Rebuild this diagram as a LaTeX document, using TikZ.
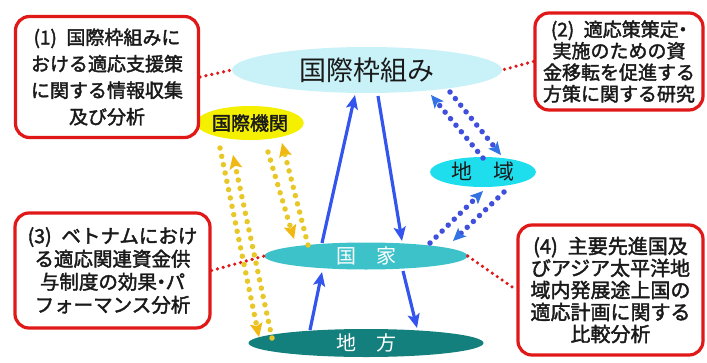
\documentclass[tikz,border=0pt]{standalone}
\usepackage{fontspec}
\usetikzlibrary{shapes.geometric,arrows.meta}
\newfontfamily\jp{Noto Sans CJK JP}
\newfontfamily\jpb[FakeBold=2]{Noto Sans CJK JP}
\newcommand{\hdot}{\kern-.28em・\kern-.28em}
\definecolor{boxred}{HTML}{E01818}
\definecolor{txt}{HTML}{1A1A1A}
\definecolor{topcol}{HTML}{C8F2F8}
\definecolor{yelcol}{HTML}{F4F000}
\definecolor{regcol}{HTML}{1EDEEE}
\definecolor{natcol}{HTML}{3EC2CA}
\definecolor{loccol}{HTML}{14807E}
\definecolor{arrblue}{HTML}{3355EE}
\definecolor{dotblue}{HTML}{4050DC}
\definecolor{dotyel}{HTML}{E8C828}
\definecolor{tipyel}{HTML}{F0B810}
\begin{document}
\begin{tikzpicture}[x=1pt,y=-1pt,
  box/.style={draw=boxred, line width=3.2pt, rounded corners=14pt, fill=white,
    align=center, inner sep=0pt, text=txt},
  ell/.style={ellipse, inner sep=0pt},
  reddot/.style={draw=boxred, line width=3.6pt, line cap=round, dash pattern=on 0pt off 6pt},
  bluedot/.style={draw=dotblue, line width=5.5pt, line cap=round, dash pattern=on 0pt off 8.5pt,
    -{Stealth[length=13pt,width=12pt,inset=3pt,line width=0pt,fill=dotblue!80!cyan]}},
  yeldot/.style={draw=dotyel, line width=5.5pt, line cap=round, dash pattern=on 0pt off 8.5pt,
    -{Stealth[length=14pt,width=13pt,inset=3pt,line width=0pt,fill=tipyel]}},
  solidarr/.style={draw=arrblue, line width=3.2pt,
    -{Stealth[length=14pt,width=12pt,inset=3pt]}}
]
\useasboundingbox (0,0) rectangle (707,362);

% ellipses
\node[ell, fill=topcol, minimum width=270pt, minimum height=46pt,
  font=\jp\fontsize{27}{30}\selectfont, text=txt] (top) at (367,70) {国際枠組み};
\node[ell, fill=yelcol, minimum width=104pt, minimum height=34pt,
  font=\jpb\fontsize{19}{22}\selectfont, text=txt] (org) at (250,123) {国際機関};
\node[ell, fill=regcol, minimum width=106pt, minimum height=30pt,
  font=\jp\fontsize{21}{24}\selectfont, text=txt] (reg) at (483,172) {地\hspace{1em}域};
\node[ell, fill=natcol, minimum width=203pt, minimum height=27pt,
  font=\jp\fontsize{20}{22}\selectfont, text=white] (nat) at (366,256) {国\hspace{1em}家};
\node[ell, fill=loccol, minimum width=235pt, minimum height=28pt,
  font=\jp\fontsize{20}{22}\selectfont, text=white] (loc) at (366,343) {地\hspace{1em}方};

% boxes
\node[box, minimum width=183pt, minimum height=121pt,
  font=\jpb\fontsize{19}{26.5}\selectfont] (b1) at (107,77)
  {(1)\hspace{.5em}国際枠組みに\\おける適応支援策\\に関する情報収集\\及び分析};
\node[box, minimum width=168pt, minimum height=97pt,
  font=\jpb\fontsize{19}{21.5}\selectfont] (b2) at (619,61.5)
  {(2)\hspace{.5em}適応策策定\hdot\\実施のための資\\金移転を促進する\\方策に関する研究};
\node[box, minimum width=195pt, minimum height=115pt,
  font=\jpb\fontsize{19.5}{23}\selectfont] (b3) at (112.5,270.5)
  {(3)\hspace{.5em}ベトナムにおけ\\る適応関連資金供\\与制度の効果\hdot パ\\フォーマンス分析};
\node[box, minimum width=185pt, minimum height=130pt,
  font=\jpb\fontsize{20}{22}\selectfont] (b4) at (610.5,290)
  {(4)\hspace{.5em}主要先進国及\\びアジア太平洋地\\域内発展途上国の\\適応計画に関する\\比較分析};

% red dotted links
\draw[reddot] (b1.east) -- (top.west);
\draw[reddot] (b2.west) -- (top.east);
\draw[reddot] (b3.east) -- (nat.west);
\draw[reddot] (nat.east) -- (b4.west);

% endpoints
\coordinate (s1s) at (310,330); \coordinate (s1e) at (322,272);
\coordinate (s2s) at (322,243); \coordinate (s2e) at (355,95);
\coordinate (s3s) at (378,96);  \coordinate (s3e) at (402,241);
\coordinate (s4s) at (403,271); \coordinate (s4e) at (417,328);

\coordinate (d1s) at (450,92);  \coordinate (d1e) at (501,155);
\coordinate (d2s) at (483,158); \coordinate (d2e) at (431,95);
\coordinate (d3s) at (430,243); \coordinate (d3e) at (483,191);
\coordinate (d4s) at (504,192); \coordinate (d4e) at (453,241);

\coordinate (y1s) at (268,152); \coordinate (y1e) at (294,239);
\coordinate (y2s) at (308,245); \coordinate (y2e) at (282,143);
\coordinate (y3s) at (220,148); \coordinate (y3e) at (259,337);
\coordinate (y4s) at (272,338); \coordinate (y4e) at (233,155);

% solid blue arrows
\draw[solidarr] (s1s) -- (s1e);
\draw[solidarr] (s2s) -- (s2e);
\draw[solidarr] (s3s) -- (s3e);
\draw[solidarr] (s4s) -- (s4e);

% blue dotted
\draw[bluedot] (d1s) -- (d1e);
\draw[bluedot] (d2s) -- (d2e);
\draw[bluedot] (d3s) -- (d3e);
\draw[bluedot] (d4s) -- (d4e);

% yellow dotted
\draw[yeldot] (y1s) -- (y1e);
\draw[yeldot] (y2s) -- (y2e);
\draw[yeldot] (y3s) -- (y3e);
\draw[yeldot] (y4s) -- (y4e);
\end{tikzpicture}
\end{document}
